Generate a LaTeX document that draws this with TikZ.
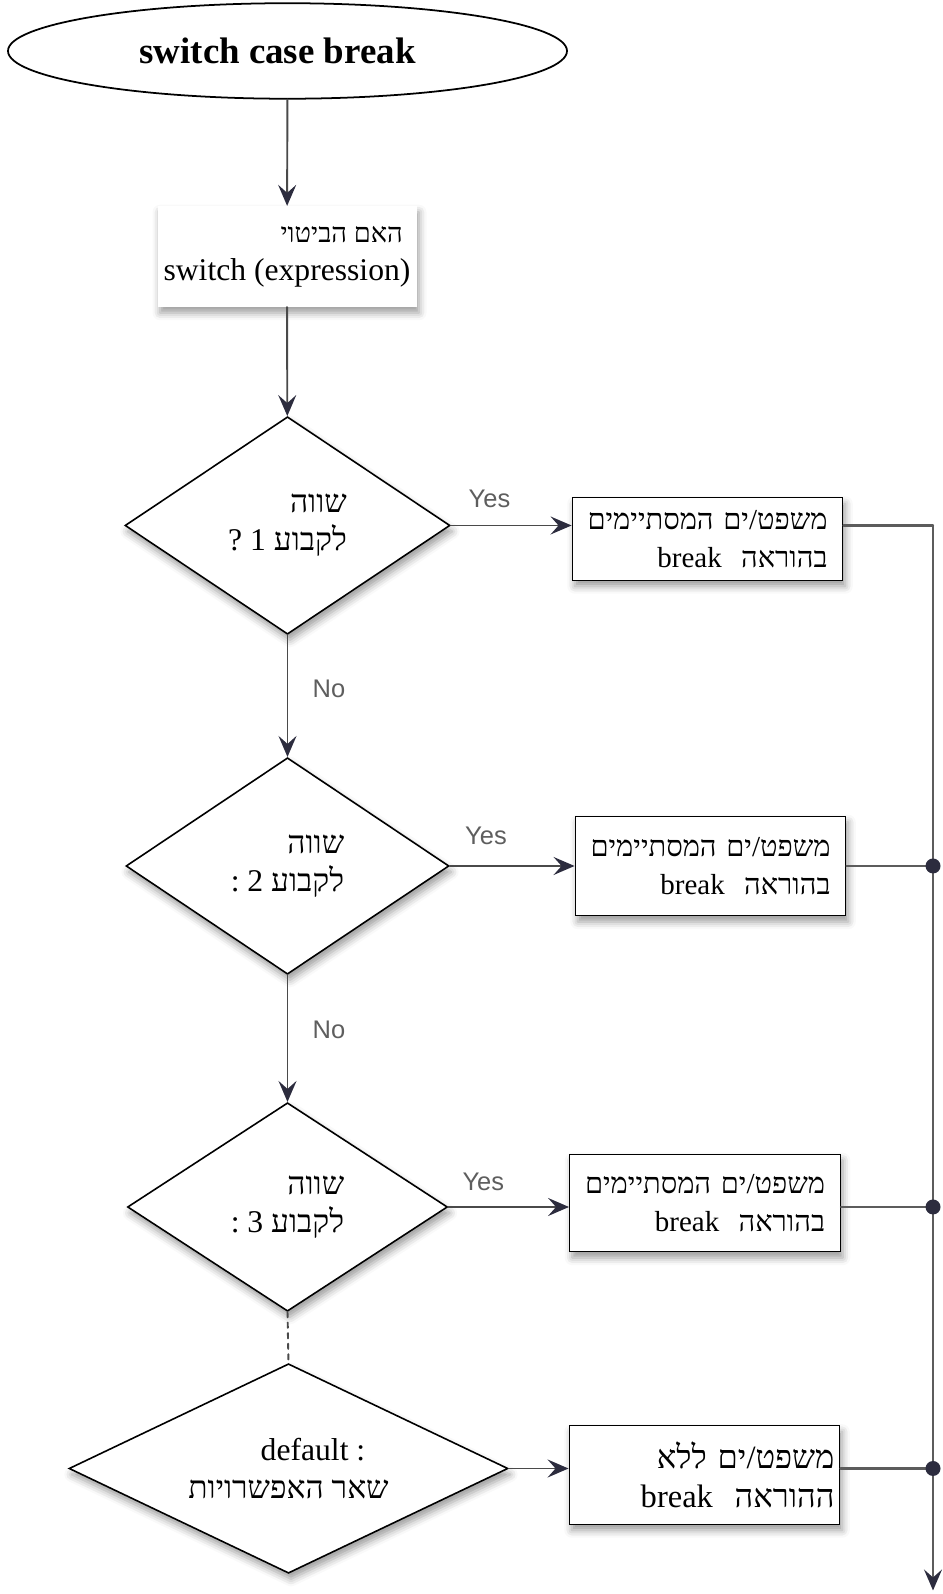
\documentclass[tikz,border=0pt]{standalone}
\usepackage{fontspec}
\setmainfont{Liberation Serif}
\newfontfamily\hebfont[Script=Hebrew]{Liberation Serif}
\newfontfamily\lblfont{Liberation Sans}
\TeXXeTstate=1
\usetikzlibrary{arrows.meta,shapes.geometric,shadows.blur}
\definecolor{linegray}{HTML}{4A4A4A}
\definecolor{tipnavy}{HTML}{2C2C3E}
\definecolor{busgray}{HTML}{5C5C5C}
\definecolor{lblgray}{HTML}{5E5E5E}
\newcommand{\heb}[1]{{\hebfont\beginR #1\endR}}

\begin{document}
\begin{tikzpicture}[>={Stealth[length=4.2mm,width=3.6mm,inset=1.6mm,color=tipnavy]},
  font=\fontsize{18}{21.5}\selectfont,line cap=round,
  softshadow/.style={blur shadow={shadow xshift=0.5mm,shadow yshift=-1.2mm,shadow blur radius=1.5mm,shadow opacity=40}},
  cond/.style={diamond,aspect=1.5,draw,line width=0.9pt,fill=white,softshadow,inner sep=0pt,align=right,minimum width=6.5cm,minimum height=4.35cm},
  stmt/.style={rectangle,draw,line width=0.8pt,fill=white,softshadow,inner xsep=0.3cm,inner ysep=0pt,text width=4.8cm,align=right,
    font=\fontsize{16.5}{21.5}\selectfont,minimum width=5.41cm,minimum height=1.97cm},
  flow/.style={draw=linegray,line width=1.1pt,->},
  busline/.style={draw=busgray,line width=1.2pt},
  yeslbl/.style={font=\lblfont\fontsize{14.5}{16}\selectfont,text=lblgray,inner sep=1pt},
  junction/.style={fill=tipnavy}]
\useasboundingbox (0,0) rectangle (18.86,31.88);
% title and expression
\node[ellipse,draw,line width=1pt,minimum width=11.18cm,minimum height=1.91cm,inner sep=0pt] (title) at (5.75,30.86)
  {\fontsize{21}{25}\selectfont\bfseries switch case break\hspace*{0.4cm}};
\node[rectangle,fill=white,softshadow,inner sep=0pt,align=right,minimum width=5.18cm,minimum height=2.01cm] (expr) at (5.74,26.75)
  {{\fontsize{15.5}{21}\selectfont\heb{האם הביטוי}}\hspace*{0.15cm}\\switch (expression)};
% the conditions
\node[cond] (d1) at (5.75,21.37) {\heb{שווה}\\\heb{לקבוע 1 ?}};
\node[cond,minimum width=6.46cm,minimum height=4.33cm] (d2) at (5.75,14.56) {\heb{שווה}\\\heb{לקבוע 2 :}};
\node[cond,minimum width=6.4cm,minimum height=4.17cm] (d3) at (5.75,7.74) {\heb{שווה}\\\heb{לקבוע 3 :}};
\node[cond,aspect=2.1,align=center,minimum width=8.78cm,minimum height=4.19cm] (d4) at (5.77,2.51)
  {\hspace*{0.98cm}default :\\\heb{שאר האפשרויות}};
% the statements
\node[stmt,minimum height=1.65cm] (box1) at (14.15,21.10) {\heb{משפט/ים המסתיימים}\\\heb{בהוראה\ \ break}};
\node[stmt,minimum height=1.99cm] (box2) at (14.21,14.56) {\heb{משפט/ים המסתיימים}\\\heb{בהוראה\ \ break}};
\node[stmt,minimum height=1.95cm] (box3) at (14.10,7.82) {\heb{משפט/ים המסתיימים}\\\heb{בהוראה\ \ break}};
\node[stmt,inner xsep=0.1cm,text width=5.2cm,font=\fontsize{18.5}{22}\selectfont] (box4) at (14.09,2.38)
  {\heb{משפט/ים ללא}\\\heb{ההוראה\ \ break}};
\coordinate (bustop) at (18.66,21.37);
\coordinate (busend) at (18.66,0.07);
% arrows down the middle
\draw[flow] (title) -- (expr);
\draw[flow] (expr) -- (d1);
\draw[flow] (d1) -- (d2) node[yeslbl,pos=0.44,right=0.45cm] (no1) {No};
\draw[flow] (d2) -- (d3) node[yeslbl,pos=0.43,right=0.45cm] (no2) {No};
\draw[draw=linegray,line width=1.1pt,dashed] (d3.south) -- (d4.north);
% yes branches
\draw[flow] (d1.east) -- (d1.east -| box1.west) node[yeslbl,pos=0.32,above=0.3cm] (yes1) {Yes};
\draw[flow] (d2.east) -- (d2.east -| box2.west) node[yeslbl,pos=0.29,above=0.38cm] (yes2) {Yes};
\draw[flow] (d3.east) -- (d3.east -| box3.west) node[yeslbl,pos=0.29,above=0.28cm] (yes3) {Yes};
\draw[flow] (d4.east) -- (d4.east -| box4.west);
% the way out
\draw[busline] (d1.east -| box1.east) -- (bustop);
\draw[busline,->] (bustop) -- (busend);
\draw[busline] (box2.east) -- (box2.east -| bustop);
\draw[busline] (d3.east -| box3.east) -- (d3.east -| bustop);
\draw[busline] (d4.east -| box4.east) -- (d4.east -| bustop);
\fill[junction] (box2.east -| bustop) circle (0.15);
\fill[junction] (d3.east -| bustop) circle (0.15);
\fill[junction] (d4.east -| bustop) circle (0.15);
\end{tikzpicture}
\end{document}
